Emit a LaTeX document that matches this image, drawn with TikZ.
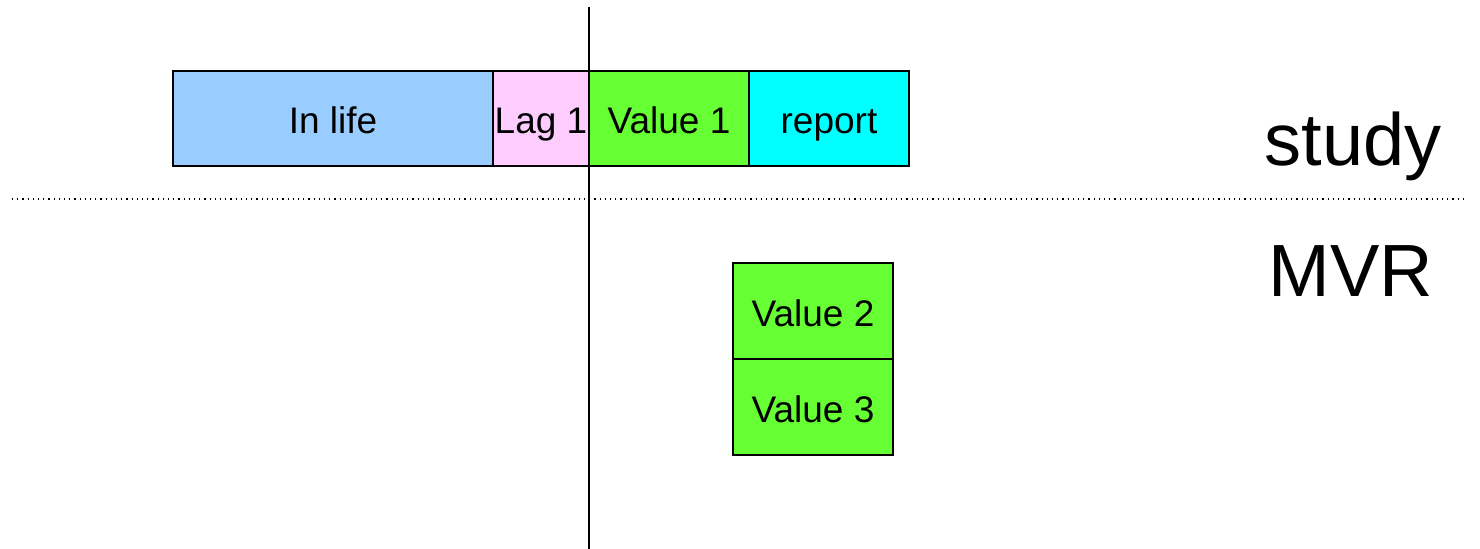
\documentclass[tikz,border=0pt]{standalone}
\usepackage{fontspec}
\setmainfont{Liberation Sans}
\definecolor{inlife}{HTML}{99CCFF}
\definecolor{lag}{HTML}{FFCCFF}
\definecolor{val}{HTML}{66FF33}
\definecolor{rep}{HTML}{00FFFF}
\begin{document}
\begin{tikzpicture}[x=0.5pt,y=-0.5pt,
  blk/.style={draw=black,line width=1pt,font=\fontsize{18.5}{20}\selectfont},
  lbl/.style={text height=13.25pt,text depth=0pt,inner sep=0pt,yshift=-1pt},
  big/.style={font=\fontsize{37}{40}\selectfont,inner sep=0pt}]
\useasboundingbox (0,0) rectangle (1480,549);
\path[blk,fill=inlife] (173,71) rectangle (493,166) node[midway,lbl] (inlife) {In life};
\path[blk,fill=lag] (493,71) rectangle (589,166) node[midway,lbl] (lag) {Lag 1};
\path[blk,fill=val] (589,71) rectangle (749,166) node[midway,lbl] (v1) {Value 1};
\path[blk,fill=rep] (749,71) rectangle (909,166) node[midway,lbl] (rep) {report};
\path[blk,fill=val] (733,263) rectangle (893,359) node[midway,lbl] (v2) {Value 2};
\path[blk,fill=val] (733,359) rectangle (893,455) node[midway,lbl] (v3) {Value 3};
\coordinate (vt) at (589,7);
\coordinate (vb) at (589,549);
\draw[line width=1pt] (vt) -- (vb);
\coordinate (hl) at (12,199);
\coordinate (hr) at (1467,199);
\draw[dotted,line width=0.6pt] (hl) -- (hr);
\node[big,anchor=base] (study) at (1353,166) {study};
\node[big,anchor=base] (mvr) at (1351,297) {MVR};
\end{tikzpicture}
\end{document}
